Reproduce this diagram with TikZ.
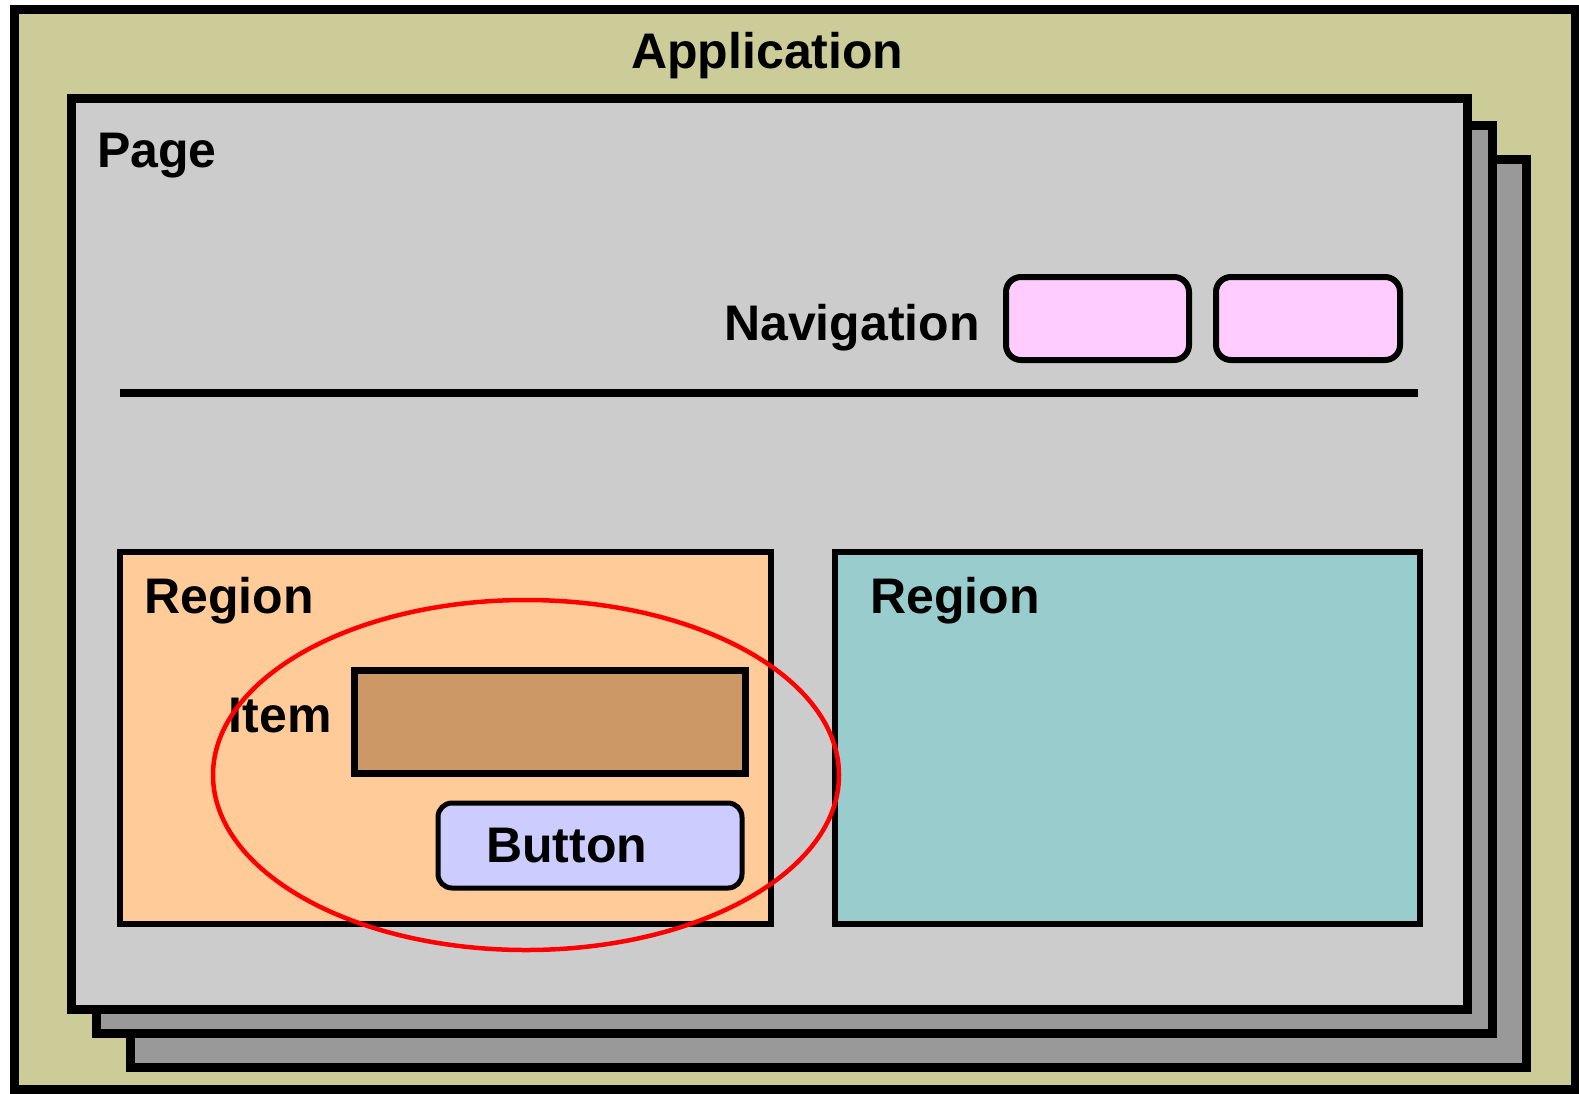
\documentclass[tikz,border=0pt]{standalone}
\usepackage{fontspec}
\setmainfont{Liberation Sans}
\definecolor{appc}{HTML}{CCCC99}
\definecolor{pagec}{HTML}{CCCCCC}
\definecolor{shadc}{HTML}{999999}
\definecolor{navc}{HTML}{FFCCFF}
\definecolor{regl}{HTML}{FFCC99}
\definecolor{regr}{HTML}{99CCCC}
\definecolor{itemc}{HTML}{CC9966}
\definecolor{btnc}{HTML}{CCCCFF}
\tikzset{
  lbl/.style={inner sep=0pt, anchor=base west, font=\fontsize{50}{60}\selectfont\bfseries},
  pagebox/.style={draw=black, line width=9pt},
  regbox/.style={draw=black, line width=6.5pt},
  navbox/.style={draw=black, line width=6pt, fill=navc, rounded corners=15pt},
}
\begin{document}
\begin{tikzpicture}[x=1pt,y=-1pt]
\useasboundingbox (0,0) rectangle (1579,1093);
\fill[white] (0,0) rectangle (1579,1093);
% application
\draw[fill=appc, line width=9pt] (14,9) rectangle (1575,1089);
\node[lbl] (app) at (631,68) {Application};
% stacked pages
\draw[pagebox, fill=shadc] (130,159) rectangle (1526,1067);
\draw[pagebox, fill=shadc] (96,125) rectangle (1492,1033);
\draw[pagebox, fill=pagec] (71,98) rectangle (1467,1009);
\node[lbl] (page) at (97,167) {Page};
% navigation
\node[lbl] (navlbl) at (724,340) {Navigation};
\draw[navbox] (1006,277) rectangle (1189,360);
\draw[navbox] (1216,277) rectangle (1400,360);
\coordinate (divl) at (120,393);
\coordinate (divr) at (1418,393);
\draw[line width=8pt] (divl) -- (divr);
% regions
\draw[regbox, fill=regl] (120,552) rectangle (771,924);
\node[lbl] (reg1) at (144,613) {Region};
\draw[regbox, fill=regr] (835,552) rectangle (1420,924);
\node[lbl] (reg2) at (870,613) {Region};
% item
\draw[line width=7pt, fill=itemc] (354,670) rectangle (745,773);
\node[lbl, anchor=base east] (item) at (332,732) {Item};
% button
\draw[line width=5pt, fill=btnc, rounded corners=14pt] (438,803) rectangle (742,888);
\node[lbl] (btn) at (486,862) {Button};
% highlight ellipse
\draw[red, line width=4.5pt] (526,775) ellipse [x radius=313, y radius=175];
\end{tikzpicture}
\end{document}
